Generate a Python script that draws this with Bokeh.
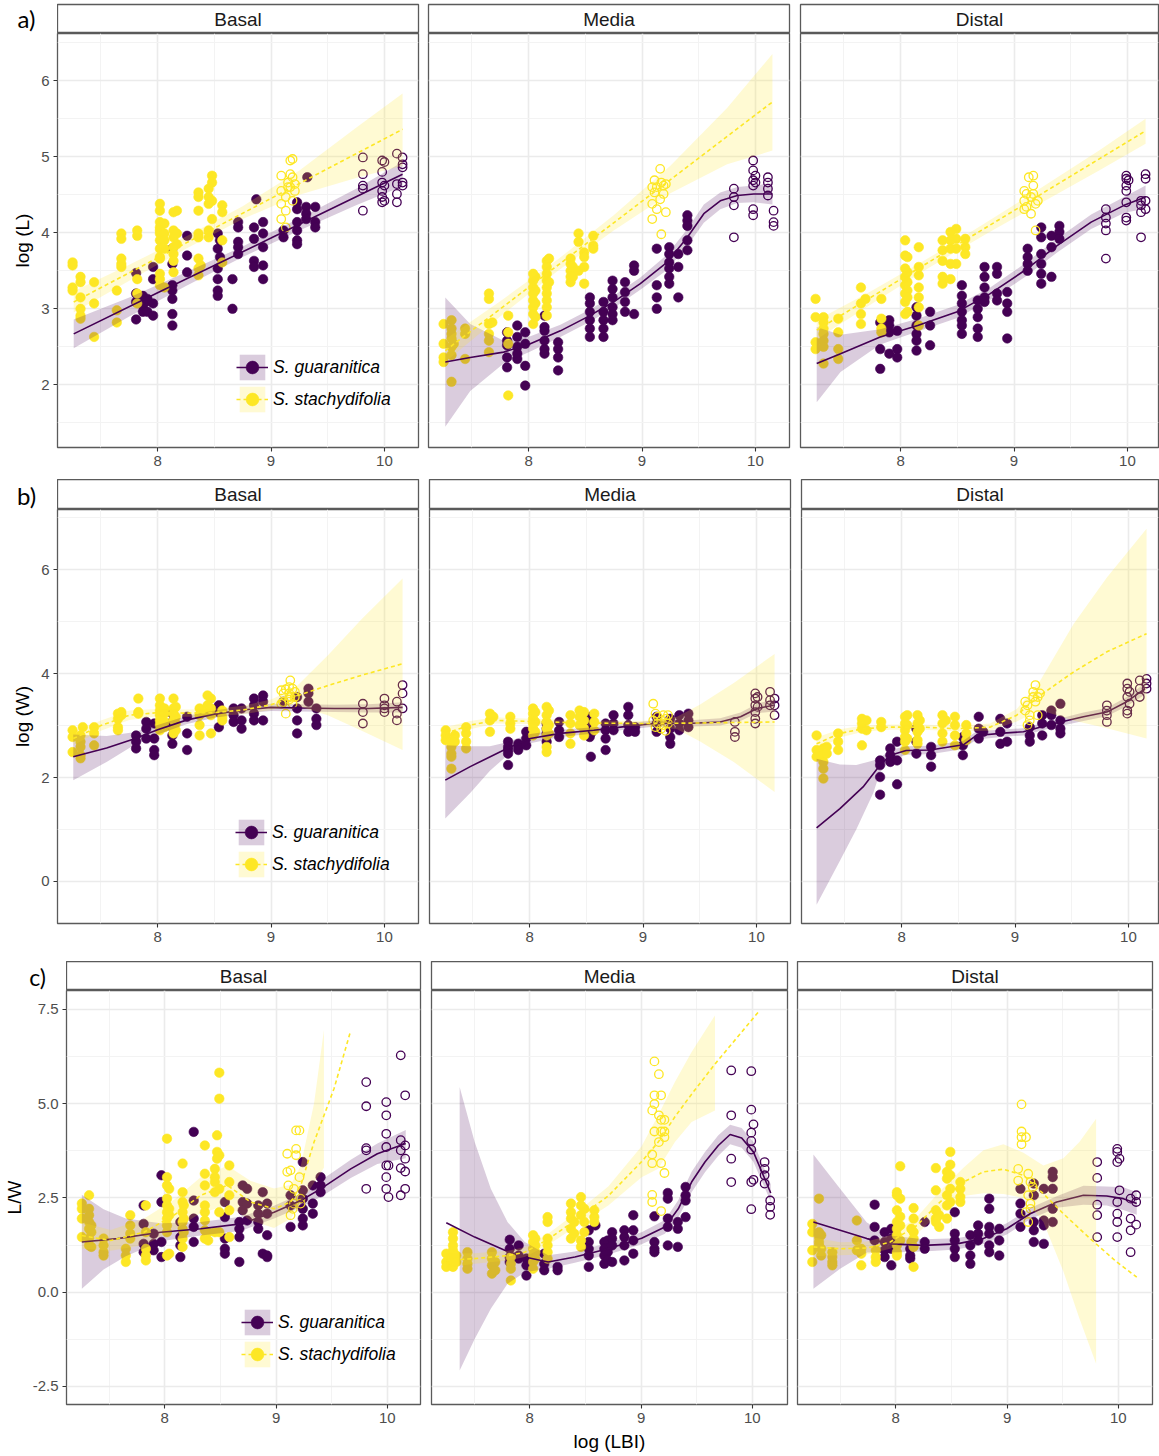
from bokeh.plotting import figure
from bokeh.layouts import column, row
from bokeh.models import (Range1d, FixedTicker, Label, Legend, LegendItem,
                          NumeralTickFormatter)
from bokeh.embed import file_html
from bokeh.resources import INLINE

# ---------------------------------------------------------------- labels
SPECIES = ["S. guaranitica", "S. stachydifolia"]
COLORS = ["#440154", "#FDE725"]
FACETS = ["Basal", "Media", "Distal"]
ROW_TAGS = ["a)", "b)", "c)"]
Y_LABELS = ["log (L)", "log (W)", "L/W"]
X_LABEL = "log (LBI)"
X_TICKS = [8, 9, 10]
X_MINOR = [7.5, 8.5, 9.5]
Y_TICKS = [[2, 3, 4, 5, 6], [0, 2, 4, 6], [-2.5, 0, 2.5, 5, 7.5]]
Y_MINOR = [[1.5, 2.5, 3.5, 4.5, 5.5, 6.5], [1, 3, 5, 7], [-1.25, 1.25, 3.75, 6.25]]
Y_FORMATS = ["0", "0", "0.0"]
Y_LIMS = [(1.176, 6.62), (-0.81, 7.16), (-2.98, 8.0)]
X_START = 7.117

# ============================================================ a) log (L)
# points: (log LBI, [values...])
A_BAS_GUA = [(7.81, [3.47, 3.20, 3.09, 2.86]), (7.87, [3.17, 3.04, 2.96]), (7.91, [3.10, 2.96, 3.13]),
             (7.96, [3.55, 3.39, 3.07, 2.91]), (8.13, [3.79, 3.59, 3.31, 3.24, 3.13, 2.93, 2.78]),
             (8.26, [3.96, 3.70, 3.48]), (8.53, [3.99, 3.79, 3.53, 3.39, 3.24, 3.17]), (8.55, [3.90, 3.68]),
             (8.66, [3.39, 3.00]), (8.71, [4.14, 4.07, 3.88, 3.81, 3.72]), (8.85, [4.07, 3.92, 3.63, 3.55]),
             (8.87, [4.44]), (8.93, [4.14, 3.99, 3.81, 3.57, 3.39]), (9.11, [4.03, 3.94]),
             (9.23, [4.40, 4.31, 4.14, 4.03, 3.90, 3.85]), (9.31, [4.34, 4.25, 4.18]), (9.32, [4.73]),
             (9.39, [4.34, 4.14, 4.07])]
A_BAS_GUA_OPEN = [(9.81, [4.99, 4.77, 4.62, 4.58, 4.29]), (9.98, [4.95, 4.80, 4.66, 4.55, 4.47, 4.40]),
                  (10.0, [4.62, 4.42, 4.93]), (10.11, [5.04, 4.64, 4.51, 4.40]),
                  (10.16, [4.99, 4.90, 4.86, 4.66, 4.62])]
A_BAS_STA = [(7.25, [3.61, 3.57, 3.28, 3.24]), (7.32, [3.42, 3.35, 3.15, 3.00, 2.91, 2.87]),
             (7.44, [3.35, 3.07, 2.63]), (7.64, [3.24, 2.98, 2.82]), (7.68, [3.99, 3.92, 3.66, 3.59, 3.55]),
             (7.82, [4.03, 3.96, 3.39, 3.20, 3.07]),
             (8.02, [4.38, 4.29, 4.14, 4.07, 4.03, 3.99, 3.90, 3.79, 3.68, 3.66, 3.46, 3.39, 3.31]),
             (8.06, [4.12, 3.99, 3.90, 3.79, 3.28]), (8.14, [4.27, 4.03, 3.94, 3.81, 3.72, 3.63, 3.48]),
             (8.17, [4.29, 3.99, 3.85]), (8.36, [4.53, 4.47, 4.29, 3.99, 3.94, 3.66, 3.53, 3.44]),
             (8.38, [3.57]), (8.45, [4.58, 4.47, 4.38, 4.03, 3.94]), (8.48, [4.75, 4.66, 4.42, 4.18]),
             (8.57, [4.36, 4.27, 3.90, 3.61])]
A_BAS_STA_OPEN = [(9.09, [4.75, 4.55, 4.38, 4.18]), (9.13, [4.47, 4.29, 4.07]), (9.15, [4.66, 4.60]),
                  (9.17, [4.95, 4.77, 4.60]), (9.19, [4.97, 4.73, 4.42]), (9.21, [4.64, 4.55])]
A_BAS_GUA_FIT = [(7.26, 2.67), (8.0, 3.21), (9.0, 3.93), (10.16, 4.77)]
A_BAS_GUA_BAND = [(7.26, 2.48, 2.86), (7.75, 2.90, 3.15), (8.25, 3.30, 3.48), (8.75, 3.68, 3.82),
                  (9.25, 4.03, 4.19), (9.75, 4.36, 4.58), (10.16, 4.61, 4.93)]
A_BAS_STA_FIT = [(7.26, 3.09), (8.5, 4.06), (10.16, 5.36)]
A_BAS_STA_BAND = [(7.26, 2.95, 3.23), (7.75, 3.37, 3.58), (8.25, 3.79, 3.95), (8.75, 4.18, 4.35),
                  (9.25, 4.50, 4.82), (9.75, 4.72, 5.38), (10.16, 4.88, 5.83)]

A_MED_GUA = [(7.81, [2.69, 2.58, 2.52, 2.36, 2.23]), (7.90, [2.78, 2.63, 2.50, 2.41, 2.34]),
             (7.97, [2.69, 2.54, 2.25, 1.99]), (8.14, [2.91, 2.76, 2.71, 2.58, 2.47, 2.41]),
             (8.26, [2.56, 2.47, 2.36, 2.19]), (8.54, [3.15, 3.07, 2.96, 2.85, 2.74, 2.63]),
             (8.66, [3.09, 2.96, 2.85, 2.74, 2.63]), (8.74, [3.37, 3.26, 3.15, 3.02, 2.93, 2.85]),
             (8.85, [3.35, 3.22, 3.09, 2.96]), (8.93, [3.57, 3.50, 2.93]), (9.13, [3.79, 3.31, 3.15, 3.00]),
             (9.24, [3.81, 3.72, 3.61, 3.53, 3.42, 3.33]), (9.32, [3.72, 3.55, 3.15]),
             (9.40, [4.23, 4.16, 4.09, 3.90, 3.77])]
A_MED_GUA_OPEN = [(9.81, [4.58, 4.47, 4.36, 3.94]), (9.98, [4.95, 4.82, 4.69, 4.62, 4.31, 4.23]),
                  (10.0, [4.75, 4.66]), (10.11, [4.73, 4.66, 4.58, 4.49]), (10.16, [4.29, 4.14, 4.09])]
A_MED_STA = [(7.25, [2.80, 2.54, 2.36, 2.30]), (7.32, [2.85, 2.74, 2.67, 2.61, 2.50, 2.39, 2.04]),
             (7.34, [2.54]), (7.44, [2.74, 2.67, 2.34]), (7.65, [3.20, 3.13, 2.80, 2.67, 2.58, 2.43]),
             (7.68, [2.82]), (7.82, [2.91, 2.69, 2.54, 1.86]),
             (8.04, [3.46, 3.37, 3.28, 3.20, 3.11, 3.02, 2.93, 2.80]), (8.06, [3.42, 3.24, 3.07, 2.89]),
             (8.16, [3.63, 3.55, 3.46, 3.37, 3.28, 3.20, 3.11, 3.02, 2.91]), (8.18, [3.66, 3.35]),
             (8.37, [3.66, 3.59, 3.50, 3.42, 3.35]), (8.39, [3.55, 3.42]), (8.44, [3.99, 3.88, 3.50]),
             (8.49, [3.74, 3.68, 3.55, 3.33]), (8.57, [3.96, 3.83, 3.79])]
A_MED_STA_OPEN = [(9.09, [4.60, 4.38, 4.18]), (9.11, [4.69, 4.53]), (9.13, [4.31, 4.60]),
                  (9.16, [4.44, 4.84]), (9.17, [4.66, 3.98]), (9.19, [4.62, 4.51]), (9.21, [4.27, 4.64])]
A_MED_GUA_FIT = [(7.265, 2.30), (7.485, 2.36), (7.78, 2.43), (8.015, 2.54), (8.28, 2.71), (8.515, 2.89),
                 (8.75, 3.09), (8.985, 3.33), (9.22, 3.61), (9.40, 3.94), (9.545, 4.25), (9.69, 4.42),
                 (9.84, 4.49), (9.985, 4.51), (10.15, 4.51)]
A_MED_GUA_BAND = [(7.265, 1.45, 3.15), (7.485, 1.92, 2.80), (7.78, 2.28, 2.58), (8.015, 2.44, 2.64),
                  (8.28, 2.63, 2.79), (8.515, 2.81, 2.97), (8.75, 3.01, 3.17), (8.985, 3.25, 3.41),
                  (9.22, 3.51, 3.71), (9.40, 3.83, 4.05), (9.545, 4.13, 4.37), (9.69, 4.31, 4.53),
                  (9.84, 4.39, 4.60), (9.985, 4.40, 4.62), (10.15, 4.37, 4.65)]
A_MED_STA_FIT = [(7.265, 2.45), (8.75, 4.13), (10.15, 5.72)]
A_MED_STA_BAND = [(7.265, 2.30, 2.60), (7.75, 2.90, 3.10), (8.25, 3.49, 3.64), (8.75, 4.03, 4.23),
                  (9.25, 4.52, 4.88), (9.75, 4.90, 5.64), (10.15, 5.08, 6.35)]

A_DIS_GUA = [(7.82, [2.82, 2.47, 2.21]), (7.90, [2.85, 2.78, 2.69, 2.41]), (7.97, [2.71, 2.47, 2.36]),
             (8.14, [3.02, 2.91, 2.78, 2.67, 2.58, 2.45]), (8.26, [2.96, 2.78, 2.52]),
             (8.54, [3.31, 3.17, 3.07, 2.96, 2.85, 2.78, 2.67]), (8.68, [3.11, 3.00, 2.89, 2.74, 2.63]),
             (8.74, [3.55, 3.42, 3.28, 3.15, 3.09]), (8.85, [3.55, 3.46, 3.20, 3.11]),
             (8.94, [3.22, 3.07, 2.96, 2.61]), (9.12, [3.79, 3.68, 3.59, 3.50]),
             (9.24, [4.07, 3.94, 3.72, 3.59, 3.46, 3.33]), (9.33, [3.96, 3.81, 3.42]),
             (9.40, [4.09, 4.01, 3.92])]
A_DIS_GUA_OPEN = [(9.81, [4.31, 4.20, 4.12, 4.03, 3.66]), (9.99, [4.75, 4.71, 4.62, 4.55, 4.40, 4.20, 4.16]),
                  (10.01, [4.69]), (10.12, [4.42, 4.36, 4.27, 3.94]), (10.16, [4.77, 4.71, 4.42, 4.31])]
A_DIS_STA = [(7.25, [3.13, 2.89, 2.56, 2.47]), (7.32, [2.89, 2.82, 2.74, 2.67, 2.58, 2.50, 2.28]),
             (7.45, [2.87, 2.69, 2.47, 2.34]), (7.65, [3.28, 3.07, 2.93, 2.80]), (7.69, [3.13]),
             (7.83, [3.13, 2.87, 2.74, 2.69]), (8.04, [3.90, 3.70, 3.53, 3.42, 3.31, 3.20, 3.09, 2.93]),
             (8.06, [3.68, 3.48, 3.35, 3.24, 3.15, 2.96]), (8.16, [3.81, 3.55, 3.44, 3.28, 3.15, 3.02, 2.78]),
             (8.37, [3.90, 3.77, 3.63, 3.42, 3.33]), (8.44, [4.01, 3.90, 3.79, 3.59, 3.39]),
             (8.49, [4.05, 3.92, 3.79, 3.59]), (8.57, [3.92, 3.81, 3.72])]
A_DIS_STA_OPEN = [(9.09, [4.55, 4.42, 4.31]), (9.11, [4.34, 4.51]), (9.13, [4.73]), (9.15, [4.47, 4.25]),
                  (9.17, [4.75, 4.62, 4.51]), (9.19, [4.38, 4.03]), (9.21, [4.42])]
A_DIS_GUA_FIT = [(7.26, 2.28), (7.47, 2.41), (7.82, 2.63), (8.15, 2.78), (8.5, 2.96), (8.79, 3.20),
                 (9.09, 3.50), (9.38, 3.83), (9.68, 4.14), (9.97, 4.36), (10.16, 4.47)]
A_DIS_GUA_BAND = [(7.26, 1.77, 2.76), (7.47, 2.17, 2.66), (7.82, 2.53, 2.73), (8.15, 2.70, 2.87),
                  (8.5, 2.88, 3.05), (8.79, 3.12, 3.28), (9.09, 3.41, 3.59), (9.38, 3.74, 3.92),
                  (9.68, 4.05, 4.24), (9.97, 4.26, 4.47), (10.16, 4.32, 4.62)]
A_DIS_STA_FIT = [(7.26, 2.72), (8.5, 3.84), (10.16, 5.34)]
A_DIS_STA_BAND = [(7.26, 2.60, 2.85), (7.75, 3.07, 3.24), (8.25, 3.54, 3.67), (8.75, 3.98, 4.13),
                  (9.25, 4.40, 4.60), (9.75, 4.82, 5.08), (10.16, 5.17, 5.50)]

# ============================================================ b) log (W)
B_BAS_GUA = [(7.81, [2.81, 2.69, 2.56]), (7.90, [3.07, 2.94, 2.75]), (7.97, [3.04, 2.75, 2.53, 2.43]),
             (8.13, [3.23, 3.07, 2.97, 2.81, 2.65]), (8.26, [3.17, 2.85, 2.53]), (8.54, [3.39, 3.26, 2.97]),
             (8.67, [3.33, 3.20, 3.07]), (8.74, [3.33, 3.10, 2.94]), (8.85, [3.52, 3.39, 3.23, 3.10]),
             (8.93, [3.58, 3.46, 3.10]), (9.11, [3.46]), (9.23, [3.55, 3.33, 3.10, 2.85]),
             (9.33, [3.71, 3.62, 3.46]), (9.40, [3.33, 3.13, 3.01])]
B_BAS_GUA_OPEN = [(9.81, [3.42, 3.26, 3.04]), (10.0, [3.52, 3.39, 3.33, 3.26]), (10.11, [3.46, 3.23, 3.10]),
                  (10.16, [3.78, 3.62, 3.33])]
B_BAS_STA = [(7.25, [2.91, 2.78, 2.49]), (7.32, [2.81, 2.69, 2.59, 2.43, 2.37]), (7.34, [2.97]),
             (7.44, [2.97, 2.85, 2.62]), (7.65, [3.23, 3.13, 2.97, 2.91]), (7.68, [3.26, 3.20]),
             (7.83, [3.52, 3.26, 3.23]), (8.02, [3.52, 3.39, 3.29, 3.20, 3.10, 3.01, 2.91]),
             (8.06, [3.33, 3.23, 3.07, 2.97]), (8.14, [3.52, 3.33, 3.23, 3.10, 2.94, 2.85]),
             (8.16, [3.36, 3.17, 3.04, 2.91]), (8.37, [3.33, 3.20, 3.01, 2.81]), (8.44, [3.58, 3.39, 3.26]),
             (8.47, [3.52, 3.33, 3.20, 2.85]), (8.57, [3.29, 3.17, 3.10])]
B_BAS_STA_OPEN = [(9.09, [3.68, 3.42]), (9.11, [3.62, 3.45]), (9.13, [3.23, 3.70]), (9.16, [3.74, 3.62, 3.50]),
                  (9.17, [3.87, 3.55]), (9.19, [3.71, 3.42]), (9.21, [3.65, 3.55])]
B_BAS_GUA_FIT = [(7.256, 2.40), (7.55, 2.57), (7.79, 2.74), (8.0, 2.92), (8.26, 3.11), (8.5, 3.22),
                 (8.75, 3.30), (9.0, 3.35), (9.26, 3.34), (9.56, 3.33), (9.86, 3.33), (10.16, 3.35)]
B_BAS_GUA_BAND = [(7.256, 1.95, 2.83), (7.55, 2.30, 2.80), (7.79, 2.62, 2.87), (8.0, 2.83, 3.01),
                  (8.26, 3.03, 3.19), (8.5, 3.15, 3.29), (8.75, 3.23, 3.37), (9.0, 3.28, 3.42),
                  (9.26, 3.27, 3.41), (9.56, 3.26, 3.40), (9.86, 3.25, 3.41), (10.16, 3.25, 3.45)]
B_BAS_STA_FIT = [(7.256, 2.75), (7.5, 3.00), (7.75, 3.20), (8.0, 3.25), (8.25, 3.24), (8.5, 3.25),
                 (8.75, 3.30), (9.0, 3.40), (9.2, 3.55), (9.5, 3.77), (9.8, 3.97), (10.16, 4.19)]
B_BAS_STA_BAND = [(7.256, 2.62, 2.88), (7.5, 2.90, 3.10), (7.75, 3.11, 3.29), (8.0, 3.18, 3.32),
                  (8.25, 3.17, 3.31), (8.5, 3.18, 3.32), (8.75, 3.22, 3.38), (9.0, 3.30, 3.50),
                  (9.2, 3.40, 3.70), (9.5, 3.20, 4.35), (9.8, 2.90, 5.05), (10.16, 2.53, 5.83)]

B_MED_GUA = [(7.81, [2.69, 2.59, 2.53, 2.46, 2.24]), (7.90, [2.65, 2.59, 2.53]), (7.97, [2.88, 2.75, 2.62]),
             (8.15, [3.04, 2.94, 2.85, 2.69]), (8.26, [3.07, 2.91, 2.78]), (8.53, [2.78]),
             (8.54, [3.17, 3.01, 2.85, 2.40]), (8.67, [3.04, 2.91, 2.75, 2.53]), (8.74, [3.20, 3.04, 2.91]),
             (8.87, [3.36, 3.20, 3.01, 2.88]), (8.93, [2.97, 2.88]), (9.12, [3.17, 3.04, 2.88]),
             (9.24, [3.13, 2.94, 2.78, 2.65]), (9.32, [3.20, 3.04, 2.91]), (9.40, [3.23, 3.10, 2.97])]
B_MED_GUA_OPEN = [(9.81, [3.07, 2.88, 2.78]), (9.99, [3.62, 3.52, 3.39, 3.26, 3.13, 3.04]),
                  (10.01, [3.55, 3.36]), (10.12, [3.65, 3.49, 3.39]), (10.16, [3.52, 3.39, 3.20])]
B_MED_STA = [(7.26, [2.91, 2.81, 2.72]), (7.31, [2.69, 2.59, 2.46, 2.40, 2.17]), (7.34, [2.81, 2.69]),
             (7.44, [2.97, 2.85, 2.69, 2.56]), (7.65, [3.23, 3.10, 2.88]), (7.68, [3.17]),
             (7.83, [3.17, 3.04, 2.94]), (8.03, [3.33, 3.23, 3.13, 3.04, 2.94, 2.81]),
             (8.05, [3.26, 3.07, 2.88]), (8.15, [3.36, 3.20, 3.07, 2.94, 2.81, 2.59, 2.49]),
             (8.17, [3.29, 3.01, 2.85]), (8.36, [3.20, 3.04, 2.85, 2.65]), (8.44, [3.29, 3.17, 3.01]),
             (8.48, [3.26, 3.10, 2.94, 2.81]), (8.57, [3.23, 3.07, 2.91])]
B_MED_STA_OPEN = [(9.09, [3.42, 3.10]), (9.11, [3.23, 2.97]), (9.13, [3.04, 3.17]), (9.16, [3.10, 2.94]),
                  (9.18, [3.20, 3.01]), (9.20, [3.13, 2.90]), (9.22, [3.20, 3.04])]
B_MED_GUA_FIT = [(7.256, 1.95), (7.476, 2.21), (7.80, 2.56), (8.006, 2.75), (8.27, 2.85), (8.565, 2.91),
                 (8.80, 2.97), (9.094, 3.04), (9.39, 3.04), (9.68, 3.07), (9.86, 3.17), (10.006, 3.33),
                 (10.153, 3.39)]
B_MED_GUA_BAND = [(7.256, 1.21, 2.62), (7.476, 1.70, 2.60), (7.65, 2.13, 2.60), (7.80, 2.42, 2.68),
                  (8.006, 2.66, 2.84), (8.27, 2.78, 2.92), (8.565, 2.85, 2.97), (8.80, 2.91, 3.03),
                  (9.094, 2.98, 3.10), (9.39, 2.98, 3.10), (9.68, 3.00, 3.14), (9.86, 3.09, 3.25),
                  (10.006, 3.24, 3.42), (10.153, 3.27, 3.51)]
B_MED_STA_FIT = [(7.256, 2.85), (7.476, 3.01), (7.70, 3.10), (8.0, 3.08), (8.5, 3.05), (9.0, 3.04),
                 (9.5, 3.05), (10.16, 3.07)]
B_MED_STA_BAND = [(7.256, 2.73, 2.97), (7.476, 2.93, 3.09), (7.70, 3.04, 3.16), (8.0, 3.03, 3.13),
                  (8.5, 3.00, 3.10), (9.0, 2.99, 3.09), (9.3, 2.93, 3.17), (9.5, 2.70, 3.40),
                  (9.8, 2.30, 3.82), (10.16, 1.72, 4.38)]

B_DIS_GUA = [(7.81, [2.33, 2.24, 2.01, 1.67]), (7.90, [2.56, 2.43, 2.30]), (7.96, [2.69, 2.33, 1.87]),
             (8.13, [2.94, 2.69, 2.46]), (8.26, [2.59, 2.43, 2.21]), (8.54, [2.78, 2.62, 2.43]),
             (8.68, [3.17, 2.94, 2.75]), (8.72, [2.88]), (8.87, [3.13, 2.88, 2.65]), (8.93, [3.04, 2.69]),
             (9.13, [2.97, 2.81, 2.69]), (9.24, [3.20, 3.04, 2.81]), (9.32, [3.29, 3.20, 3.01]),
             (9.40, [3.42, 3.10, 2.94, 2.85])]
B_DIS_GUA_OPEN = [(9.81, [3.39, 3.29, 3.20, 3.07]), (9.99, [3.81, 3.71, 3.55, 3.29, 3.23]),
                  (10.01, [3.65, 3.42]), (10.10, [3.87, 3.71, 3.55]), (10.16, [3.90, 3.81, 3.71])]
B_DIS_STA = [(7.25, [2.81, 2.53, 2.40]), (7.31, [2.56, 2.43, 2.30, 2.17, 1.98]), (7.34, [2.59, 2.46]),
             (7.44, [2.85, 2.69, 2.53]), (7.65, [3.13, 3.04, 2.94, 2.62]), (7.69, [3.10, 2.91]),
             (7.82, [3.07, 2.97]), (8.03, [3.17, 3.04, 2.91, 2.78, 2.69, 2.53]), (8.05, [3.20, 3.01, 2.75]),
             (8.14, [3.20, 3.04, 2.88, 2.72, 2.65]), (8.16, [3.10, 2.94]), (8.36, [3.20, 3.04, 2.85, 2.69]),
             (8.39, [3.10]), (8.47, [3.17, 3.01, 2.81, 2.62]), (8.57, [3.01, 2.85, 2.72])]
B_DIS_STA_OPEN = [(9.09, [3.46, 3.29]), (9.11, [3.39, 3.01]), (9.13, [3.20, 3.10]), (9.16, [3.65, 3.55]),
                  (9.18, [3.78, 3.46]), (9.20, [3.55, 3.20]), (9.22, [3.62])]
B_DIS_GUA_FIT = [(7.25, 1.03), (7.456, 1.40), (7.66, 1.82), (7.81, 2.24), (7.90, 2.43), (8.04, 2.52),
                 (8.25, 2.53), (8.544, 2.63), (8.66, 2.81), (8.926, 2.86), (9.074, 2.88), (9.309, 3.02),
                 (9.603, 3.17), (9.809, 3.26), (9.985, 3.46), (10.147, 3.71)]
B_DIS_GUA_BAND = [(7.25, -0.45, 2.36), (7.456, 0.40, 2.25), (7.60, 1.00, 2.24), (7.75, 1.70, 2.33),
                  (7.81, 2.10, 2.38), (7.90, 2.33, 2.53), (8.04, 2.44, 2.60), (8.25, 2.45, 2.61),
                  (8.544, 2.55, 2.71), (8.66, 2.73, 2.89), (8.926, 2.79, 2.93), (9.074, 2.81, 2.95),
                  (9.309, 2.95, 3.09), (9.603, 3.09, 3.25), (9.809, 3.18, 3.34), (9.985, 3.37, 3.55),
                  (10.147, 3.60, 3.82)]
B_DIS_STA_FIT = [(7.25, 2.65), (7.456, 2.85), (7.66, 2.94), (7.897, 2.97), (8.19, 2.97), (8.485, 2.94),
                 (8.78, 2.97), (9.015, 3.20), (9.22, 3.58), (9.515, 4.03), (9.81, 4.42), (10.16, 4.77)]
B_DIS_STA_BAND = [(7.25, 2.53, 2.77), (7.456, 2.77, 2.93), (7.66, 2.88, 3.00), (7.897, 2.92, 3.02),
                  (8.19, 2.92, 3.02), (8.485, 2.89, 2.99), (8.78, 2.90, 3.04), (9.015, 3.08, 3.32),
                  (9.22, 3.30, 3.86), (9.515, 3.10, 4.95), (9.81, 2.95, 5.85), (10.16, 2.75, 6.79)]

# ============================================================ c) L/W
C_BAS_GUA = [(7.81, [2.30, 1.81, 1.28, 1.06]), (7.90, [1.55, 1.28, 1.11]), (7.97, [3.10, 2.39, 1.33, 0.93]),
             (8.14, [1.86, 1.46, 1.24, 0.93]), (8.26, [4.25, 2.43, 1.95, 1.73, 1.33]),
             (8.54, [2.39, 1.99, 1.42, 1.15, 1.02]), (8.67, [1.86, 1.68, 1.46, 0.80]),
             (8.70, [2.83, 2.39, 2.17]), (8.74, [2.74, 2.35, 1.90]), (8.84, [2.30, 2.08, 1.86, 1.68]),
             (8.88, [2.65, 1.02]), (8.92, [2.35, 2.08, 1.51, 0.97, 0.93]), (9.13, [2.57, 2.30, 1.73]),
             (9.24, [3.45, 2.70, 2.48, 2.21, 1.95, 1.77]), (9.33, [2.83, 2.35, 2.08]),
             (9.40, [3.05, 2.83, 2.65])]
C_BAS_GUA_OPEN = [(9.81, [5.57, 4.93, 3.82, 3.76, 2.74]), (9.99, [5.04, 4.69, 4.20, 3.85, 3.36, 3.05, 2.74]),
                  (10.01, [3.36, 2.52]), (10.12, [6.28, 4.03, 3.76, 3.29, 2.57]),
                  (10.16, [5.22, 3.89, 3.54, 3.20, 2.74])]
C_BAS_STA = [(7.255, [2.35, 2.21, 1.95, 1.46]), (7.32, [2.57, 2.21, 2.04, 1.86, 1.68, 1.42, 1.24]),
             (7.34, [1.77, 1.59, 1.20]), (7.45, [1.42, 1.24, 1.06, 0.97]), (7.65, [1.15, 0.97, 0.80]),
             (7.69, [2.04, 1.77, 1.55, 1.42]), (7.83, [2.30, 1.59, 1.15, 0.97, 0.84]),
             (8.02, [4.07, 3.05, 2.83, 2.48, 2.30, 2.12, 1.95, 1.77, 1.59, 0.97]),
             (8.04, [2.74, 2.21, 2.04, 1.02]), (8.16, [3.41, 2.65, 2.39, 2.12, 1.86, 1.68, 1.42, 1.20]),
             (8.17, [2.30, 1.95, 1.59]), (8.36, [3.89, 3.14, 2.83, 2.30, 2.12, 1.90, 1.64, 1.42]),
             (8.39, [1.59, 1.37]), (8.45, [3.27, 3.05, 2.92, 2.65, 1.59]), (8.47, [4.16, 3.72, 3.54]),
             (8.49, [5.82, 5.13, 3.63, 2.74, 2.12, 1.59]), (8.58, [3.36, 2.92, 2.57, 2.17, 1.46])]
C_BAS_STA_OPEN = [(9.10, [3.67, 3.19]), (9.11, [2.83]), (9.13, [3.23, 2.04]), (9.15, [2.21]),
                  (9.16, [2.74, 2.35]), (9.18, [4.29, 3.80, 3.63]), (9.21, [3.05, 4.29]), (9.22, [2.48, 2.35])]
C_BAS_GUA_FIT = [(7.255, 1.33), (7.575, 1.42), (7.964, 1.59), (8.323, 1.68), (8.683, 1.81), (8.982, 2.12),
                 (9.222, 2.43), (9.401, 2.74), (9.671, 3.27), (9.91, 3.67), (10.165, 3.94)]
C_BAS_GUA_BAND = [(7.255, 0.09, 2.58), (7.45, 0.60, 2.20), (7.65, 0.95, 1.95), (7.964, 1.35, 1.83),
                  (8.323, 1.50, 1.86), (8.683, 1.62, 2.00), (8.982, 1.95, 2.29), (9.222, 2.25, 2.61),
                  (9.401, 2.52, 2.96), (9.671, 3.03, 3.51), (9.91, 3.40, 3.94), (10.165, 3.55, 4.30)]
C_BAS_STA_FIT = [(7.255, 1.50), (7.515, 1.37), (7.814, 1.59), (8.084, 2.04), (8.323, 2.57), (8.563, 2.83),
                 (8.772, 2.39), (8.982, 2.21), (9.132, 2.39), (9.222, 2.83), (9.341, 3.98), (9.521, 5.40),
                 (9.671, 6.94)]
C_BAS_STA_BAND = [(7.255, 1.15, 1.85), (7.515, 1.10, 1.65), (7.814, 1.25, 1.95), (8.084, 1.65, 2.45),
                  (8.323, 2.10, 3.05), (8.563, 2.30, 3.35), (8.772, 1.90, 2.95), (8.982, 1.70, 2.75),
                  (9.132, 1.95, 2.85), (9.222, 2.35, 3.35), (9.341, 2.90, 5.00), (9.43, 3.30, 6.95)]

C_MED_GUA = [(7.82, [1.39, 1.15, 0.93, 0.80]), (7.90, [1.24, 0.97, 0.89]), (7.97, [0.89, 0.71, 0.44]),
             (8.13, [1.02, 0.75, 0.58]), (8.25, [0.67, 0.58]), (8.53, [1.64, 1.33, 1.15, 0.97, 0.67]),
             (8.59, [1.77]), (8.67, [1.33, 1.15, 0.97, 0.75]), (8.70, [1.37, 1.06, 0.84]),
             (8.74, [1.59, 1.42, 1.24, 0.80]), (8.85, [1.64, 1.46, 1.24, 0.84]),
             (8.93, [2.04, 1.64, 1.37, 1.02]), (9.12, [2.01, 1.33, 1.15, 1.06]),
             (9.24, [2.63, 2.48, 1.95, 1.73, 1.24]), (9.33, [1.86, 1.68, 1.20]),
             (9.40, [2.79, 2.57, 2.43, 1.99])]
C_MED_GUA_OPEN = [(9.81, [5.88, 4.69, 3.54, 2.92]), (9.99, [5.86, 4.84, 4.23, 4.01, 3.78, 2.92, 2.20]),
                  (10.01, [4.45, 2.98]), (10.11, [3.45, 3.27, 3.10, 2.88]), (10.16, [2.43, 2.26, 2.05])]
C_MED_STA = [(7.25, [1.02, 0.80, 0.67]), (7.31, [1.59, 1.42, 1.24, 1.11, 0.93, 0.80, 0.67]),
             (7.34, [0.97, 0.80]), (7.44, [1.06, 0.89, 0.75, 0.62]), (7.66, [1.06, 0.89, 0.71, 0.49]),
             (7.69, [0.80, 0.58]), (7.83, [0.93, 0.75, 0.62, 0.31]), (8.03, [1.51, 1.33, 1.15, 0.97, 0.80, 0.62]),
             (8.05, [1.42, 1.24, 1.06, 0.89]), (8.16, [1.99, 1.86, 1.42, 1.24, 1.06, 0.89]),
             (8.37, [2.35, 2.12, 1.95, 1.68, 1.42]), (8.40, [1.86, 1.55]), (8.46, [2.52, 2.30, 2.04, 1.37, 1.20]),
             (8.49, [2.21, 1.86, 1.59]), (8.58, [2.17, 1.99, 1.86])]
C_MED_STA_OPEN = [(9.10, [4.82, 3.65, 3.42, 2.58, 2.39]), (9.12, [6.12, 5.22, 4.99, 4.26]),
                  (9.16, [5.78, 4.69, 3.98]), (9.18, [5.22, 4.57, 4.26, 3.42, 2.15]),
                  (9.21, [4.57, 4.26, 4.11, 3.16])]
C_MED_GUA_FIT = [(7.25, 1.84), (7.505, 1.46), (7.775, 1.11), (7.955, 0.93), (8.165, 0.80), (8.405, 0.93),
                 (8.705, 1.15), (9.005, 1.43), (9.214, 1.73), (9.334, 2.21), (9.454, 2.92), (9.574, 3.45),
                 (9.694, 3.89), (9.80, 4.18), (9.904, 4.09), (10.009, 3.72), (10.165, 2.63)]
C_MED_GUA_BAND = [(7.37, -2.08, 5.44), (7.505, -1.24, 3.98), (7.65, -0.44, 2.74), (7.80, 0.22, 1.86),
                  (7.955, 0.53, 1.33), (8.165, 0.62, 0.98), (8.405, 0.78, 1.08), (8.705, 1.00, 1.30),
                  (9.005, 1.27, 1.59), (9.214, 1.55, 1.91), (9.334, 1.98, 2.44), (9.454, 2.65, 3.19),
                  (9.574, 3.18, 3.72), (9.694, 3.62, 4.16), (9.80, 3.92, 4.44), (9.904, 3.83, 4.35),
                  (10.009, 3.46, 3.98), (10.165, 2.40, 2.86)]
C_MED_STA_FIT = [(7.25, 0.84), (7.505, 0.89), (7.805, 0.97), (7.955, 1.06), (8.165, 1.40), (8.405, 1.90),
                 (8.705, 2.55), (9.005, 3.46), (9.154, 3.98), (9.304, 4.65), (9.454, 5.25), (9.664, 6.05),
                 (10.054, 7.43)]
C_MED_STA_BAND = [(7.25, 0.65, 1.03), (7.505, 0.75, 1.03), (7.805, 0.84, 1.10), (7.955, 0.93, 1.19),
                  (8.165, 1.25, 1.55), (8.405, 1.72, 2.08), (8.705, 2.30, 2.80), (9.005, 3.05, 3.87),
                  (9.154, 3.27, 4.69), (9.304, 3.98, 5.57), (9.454, 4.51, 6.37), (9.664, 4.82, 7.34)]

C_DIS_GUA = [(7.81, [2.32, 1.73, 1.37]), (7.90, [1.59, 1.33, 1.11, 0.93]), (7.96, [1.68, 1.42, 1.15, 0.71]),
             (8.13, [1.15, 0.97, 0.89]), (8.26, [1.86, 1.33, 1.15]), (8.53, [2.12, 1.55, 1.37, 1.15, 0.93]),
             (8.67, [1.51, 1.24, 0.97, 0.75]), (8.74, [1.77, 1.55, 1.37]),
             (8.84, [2.48, 2.21, 1.73, 1.55, 1.24, 1.06]), (8.93, [1.68, 1.37, 0.97]),
             (9.12, [2.74, 2.35, 2.08, 1.73]), (9.24, [2.88, 2.57, 1.86, 1.64, 1.33]),
             (9.33, [2.74, 1.90, 1.77, 1.28]), (9.41, [3.19, 3.05, 2.74, 2.21, 1.86])]
C_DIS_GUA_OPEN = [(9.81, [3.45, 3.03, 2.32, 2.04, 1.46]), (9.99, [3.80, 3.72, 3.45, 2.39, 2.08, 1.86, 1.46]),
                  (10.01, [3.54, 2.70]), (10.11, [2.48, 1.95, 1.64, 1.06]), (10.16, [2.57, 2.39, 1.79])]
C_DIS_STA = [(7.25, [1.81, 1.59, 1.11, 0.80]), (7.31, [2.48, 1.59, 1.46, 1.33, 1.24]), (7.33, [1.51, 1.15, 0.97]),
             (7.43, [1.06, 0.93, 0.80, 0.71]), (7.65, [1.90, 1.37, 1.11]), (7.69, [1.15, 1.02, 0.71]),
             (7.82, [1.11, 0.93, 0.80]), (8.01, [2.65, 2.57, 2.17, 1.86, 1.68, 1.51, 1.24, 1.06, 0.97]),
             (8.04, [3.34, 2.48, 2.00, 1.77, 1.37]), (8.14, [1.68, 1.33]),
             (8.16, [2.23, 1.95, 1.59, 1.42, 1.20, 0.67]), (8.36, [3.29, 2.70, 2.17, 1.95, 1.86]),
             (8.39, [2.04, 1.73]), (8.46, [3.19, 3.01, 2.57, 2.30, 1.95]),
             (8.49, [3.72, 3.38, 3.10, 2.74, 2.39]), (8.58, [2.92, 2.74, 2.52, 2.39])]
C_DIS_STA_OPEN = [(9.10, [3.27, 2.96]), (9.13, [4.98, 4.26, 4.11, 3.92]), (9.17, [4.11, 2.12]),
                  (9.19, [3.14, 2.57, 1.86]), (9.21, [2.92, 2.35, 2.21]), (9.23, [2.79])]
C_DIS_GUA_FIT = [(7.26, 1.86), (7.50, 1.64), (7.74, 1.42), (7.95, 1.28), (8.25, 1.24), (8.548, 1.28),
                 (8.787, 1.42), (8.997, 1.68), (9.207, 2.08), (9.446, 2.39), (9.686, 2.57), (9.895, 2.55),
                 (10.045, 2.48), (10.165, 2.35)]
C_DIS_GUA_BAND = [(7.26, 0.09, 3.65), (7.50, 0.62, 2.74), (7.74, 1.05, 1.85), (7.95, 1.05, 1.50),
                  (8.25, 1.08, 1.40), (8.548, 1.13, 1.43), (8.787, 1.28, 1.56), (8.997, 1.53, 1.83),
                  (9.207, 1.93, 2.23), (9.446, 2.24, 2.54), (9.686, 2.32, 2.82), (9.895, 2.30, 2.80),
                  (10.045, 2.18, 2.78), (10.165, 2.05, 2.65)]
C_DIS_STA_FIT = [(7.26, 1.20), (7.50, 1.15), (7.74, 1.17), (7.95, 1.33), (8.19, 1.77), (8.398, 2.39),
                 (8.608, 2.92), (8.787, 3.19), (8.967, 3.26), (9.147, 3.10), (9.326, 2.61), (9.506, 2.08),
                 (9.746, 1.42), (9.985, 0.80), (10.165, 0.40)]
C_DIS_STA_BAND = [(7.26, 0.95, 1.45), (7.50, 0.98, 1.32), (7.74, 1.00, 1.34), (7.95, 1.15, 1.51),
                  (8.19, 1.55, 1.99), (8.398, 2.10, 2.68), (8.608, 2.55, 3.30), (8.787, 2.62, 3.76),
                  (8.967, 2.60, 3.92), (9.147, 2.50, 3.70), (9.326, 1.86, 3.36), (9.506, 0.55, 3.55),
                  (9.65, -0.70, 3.98), (9.80, -1.90, 4.60)]

PANELS = [
    [(A_BAS_GUA, A_BAS_GUA_OPEN, A_BAS_GUA_FIT, A_BAS_GUA_BAND, A_BAS_STA, A_BAS_STA_OPEN, A_BAS_STA_FIT, A_BAS_STA_BAND),
     (A_MED_GUA, A_MED_GUA_OPEN, A_MED_GUA_FIT, A_MED_GUA_BAND, A_MED_STA, A_MED_STA_OPEN, A_MED_STA_FIT, A_MED_STA_BAND),
     (A_DIS_GUA, A_DIS_GUA_OPEN, A_DIS_GUA_FIT, A_DIS_GUA_BAND, A_DIS_STA, A_DIS_STA_OPEN, A_DIS_STA_FIT, A_DIS_STA_BAND)],
    [(B_BAS_GUA, B_BAS_GUA_OPEN, B_BAS_GUA_FIT, B_BAS_GUA_BAND, B_BAS_STA, B_BAS_STA_OPEN, B_BAS_STA_FIT, B_BAS_STA_BAND),
     (B_MED_GUA, B_MED_GUA_OPEN, B_MED_GUA_FIT, B_MED_GUA_BAND, B_MED_STA, B_MED_STA_OPEN, B_MED_STA_FIT, B_MED_STA_BAND),
     (B_DIS_GUA, B_DIS_GUA_OPEN, B_DIS_GUA_FIT, B_DIS_GUA_BAND, B_DIS_STA, B_DIS_STA_OPEN, B_DIS_STA_FIT, B_DIS_STA_BAND)],
    [(C_BAS_GUA, C_BAS_GUA_OPEN, C_BAS_GUA_FIT, C_BAS_GUA_BAND, C_BAS_STA, C_BAS_STA_OPEN, C_BAS_STA_FIT, C_BAS_STA_BAND),
     (C_MED_GUA, C_MED_GUA_OPEN, C_MED_GUA_FIT, C_MED_GUA_BAND, C_MED_STA, C_MED_STA_OPEN, C_MED_STA_FIT, C_MED_STA_BAND),
     (C_DIS_GUA, C_DIS_GUA_OPEN, C_DIS_GUA_FIT, C_DIS_GUA_BAND, C_DIS_STA, C_DIS_STA_OPEN, C_DIS_STA_FIT, C_DIS_STA_BAND)],
]

# ---------------------------------------------------------------- geometry (pixels)
# tag = (centre x, centre y measured up from the bottom of the strip-height box, font size)
ROW_GEOM = [
    dict(strip_top=4, strip_h=29, frame_h=414, bottom=32, scale=113.4,
         cols=[(57, 361, 5), (5, 361, 5), (6, 358, 1)], legend=(179, 32), tag=(26, 15, "24px")),
    dict(strip_top=0, strip_h=30, frame_h=414, bottom=38, scale=113.4,
         cols=[(57, 361, 5), (6, 361, 5), (6, 357, 1)], legend=(178, 43), tag=(26, 14.5, "24px")),
    dict(strip_top=0, strip_h=29, frame_h=414, bottom=52, scale=111.3,
         cols=[(66, 354, 5), (6, 356, 5), (5, 355, 7)], legend=(175, 34), tag=(37, 14, "23px")),
]

FONT = "Liberation Sans"
BORDER = "#5a5a5a"


def expand(clusters):
    xs, ys = [], []
    for x, vals in clusters:
        xs.extend([x] * len(vals))
        ys.extend(vals)
    return xs, ys


def style_axis(ax):
    ax.axis_line_color = None
    ax.major_tick_line_color = "#333333"
    ax.major_tick_line_width = 1.1
    ax.major_tick_out = 4
    ax.major_tick_in = 0
    ax.minor_tick_line_color = None
    ax.major_label_text_font = FONT
    ax.major_label_text_font_size = "15px"
    ax.major_label_text_color = "#4D4D4D"
    ax.major_label_standoff = 4
    ax.axis_label_text_font = FONT
    ax.axis_label_text_font_size = "19px"
    ax.axis_label_text_font_style = "normal"
    ax.axis_label_text_color = "#000000"
    ax.axis_label_standoff = 5


def blank_fig(fw, fh, **kw):
    f = figure(frame_width=fw, frame_height=fh, x_axis_location=None, y_axis_location=None,
               title=None, tools="", toolbar_location=None, output_backend="svg", **kw)
    f.grid.visible = False
    return f


def make_tag(r):
    # same vertical structure as the strip beside it, so the two line up exactly
    g = ROW_GEOM[r]
    lb = g["cols"][0][0]
    h = g["strip_h"]
    t = blank_fig(lb, h, min_border_left=0, min_border_right=0, min_border_top=g["strip_top"],
                  min_border_bottom=0, x_range=Range1d(0, lb), y_range=Range1d(0, h))
    t.outline_line_color = None
    tx, ty, size = g["tag"]
    t.add_layout(Label(x=tx, y=ty, text=ROW_TAGS[r], text_align="center",
                       text_baseline="middle", text_font="Lato", text_font_size=size,
                       text_color="#000000"))
    return t


def make_strip(r, c):
    g = ROW_GEOM[r]
    lb, fw, rb = g["cols"][c]
    s = blank_fig(fw, g["strip_h"], min_border_left=0 if c == 0 else lb, min_border_right=rb,
                  min_border_top=g["strip_top"], min_border_bottom=0,
                  x_range=Range1d(0, 1), y_range=Range1d(0, 1))
    s.outline_line_color = BORDER
    s.outline_line_width = 1.3
    s.add_layout(Label(x=0.5, y=0.5, text=FACETS[c], text_align="center", text_baseline="middle",
                       text_font=FONT, text_font_size="19px", text_color="#1A1A1A"))
    return s


def make_main(r, c):
    g = ROW_GEOM[r]
    lb, fw, rb = g["cols"][c]
    gua, gua_open, gua_fit, gua_band, sta, sta_open, sta_fit, sta_band = PANELS[r][c]
    p = figure(frame_width=fw, frame_height=g["frame_h"], min_border_left=lb, min_border_right=rb,
               min_border_top=0, min_border_bottom=g["bottom"],
               x_range=Range1d(X_START, X_START + fw / g["scale"]), y_range=Range1d(*Y_LIMS[r]),
               y_axis_location="left" if c == 0 else None, title=None, tools="",
               toolbar_location=None, output_backend="svg")
    p.outline_line_color = BORDER
    p.outline_line_width = 1.3
    xt = FixedTicker(ticks=X_TICKS, minor_ticks=X_MINOR)
    yt = FixedTicker(ticks=Y_TICKS[r], minor_ticks=Y_MINOR[r])
    p.xaxis.ticker = xt
    p.xgrid.ticker = xt
    p.ygrid.ticker = yt
    for ax in p.xaxis:
        style_axis(ax)
    if r == 2 and c == 1:
        p.xaxis.axis_label = X_LABEL
    if c == 0:
        p.yaxis.ticker = yt
        p.yaxis.formatter = NumeralTickFormatter(format=Y_FORMATS[r])
        for ax in p.yaxis:
            style_axis(ax)
        p.yaxis.axis_label = Y_LABELS[r]
    for grid in list(p.xgrid) + list(p.ygrid):
        grid.grid_line_color = "#EBEBEB"
        grid.grid_line_width = 1.6
        grid.minor_grid_line_color = "#F3F3F3"
        grid.minor_grid_line_width = 1.0

    renders = []
    for filled, opened, col in ((gua, gua_open, COLORS[0]), (sta, sta_open, COLORS[1])):
        xs, ys = expand(filled)
        pts = p.scatter(xs, ys, size=9.5, marker="circle", fill_color=col, line_color=col, line_width=0.6)
        xs, ys = expand(opened)
        p.scatter(xs, ys, size=8.5, marker="circle", fill_color=None, line_color=col, line_width=1.3)
        renders.append(pts)

    legend_parts = []
    for fit, band, col, dash, pts in ((gua_fit, gua_band, COLORS[0], "solid", renders[0]),
                                      (sta_fit, sta_band, COLORS[1], "4 3", renders[1])):
        rib = p.varea(x=[b[0] for b in band], y1=[b[1] for b in band], y2=[b[2] for b in band],
                      fill_color=col, fill_alpha=0.2)
        ln = p.line([f[0] for f in fit], [f[1] for f in fit], line_color=col, line_width=1.6,
                    line_dash=dash)
        legend_parts.append([rib, ln, pts])

    if c == 0:
        items = [LegendItem(label=SPECIES[i], renderers=legend_parts[i]) for i in range(2)]
        leg = Legend(items=items, location=g["legend"], glyph_width=32, glyph_height=32,
                     label_height=32, spacing=0, padding=0, margin=0, label_standoff=5,
                     border_line_color=None, background_fill_alpha=0,
                     label_text_font=FONT, label_text_font_style="italic",
                     label_text_font_size="17.5px", label_text_color="#000000")
        p.add_layout(leg)
    return p


rows = []
for r in range(3):
    cells = []
    for c in range(3):
        if c == 0:
            top = row(make_tag(r), make_strip(r, c))
        else:
            top = make_strip(r, c)
        cells.append(column(top, make_main(r, c)))
    rows.append(row(*cells))
layout = column(*rows)

open("out.html", "w").write(file_html(layout, INLINE))
